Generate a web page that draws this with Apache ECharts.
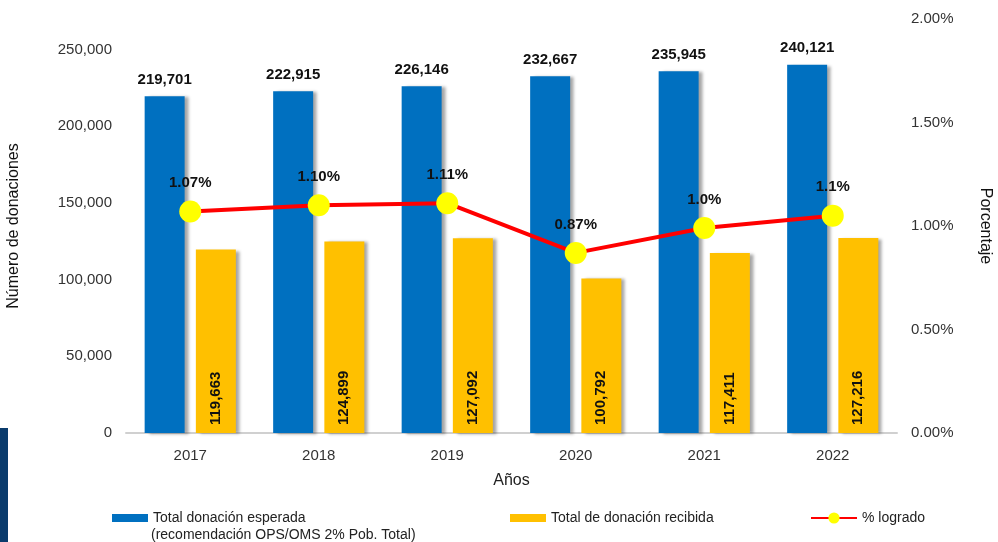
<!DOCTYPE html>
<html>
<head>
<meta charset="utf-8">
<script src="https://cdn.jsdelivr.net/npm/echarts@6/dist/echarts.min.js"></script>
<style>
  html, body { margin: 0; padding: 0; background: #fff; }
  #chart { width: 998px; height: 542px; }
</style>
</head>
<body>
<div id="chart"></div>
<script>
const years = ['2017', '2018', '2019', '2020', '2021', '2022']
const esperada = [219701, 222915, 226146, 232667, 235945, 240121]
const recibida = [119663, 124899, 127092, 100792, 117411, 127216]
const logrado = [1.07, 1.10, 1.11, 0.87, 0.99, 1.05]
const logradoLabels = ['1.07%', '1.10%', '1.11%', '0.87%', '1.0%', '1.1%']

const FONT = "'Liberation Sans', Arial, sans-serif"
const fmt = (v) => v.toLocaleString('en-US')
const legendText = { fontSize: 14, color: '#222' }

const chart = echarts.init(document.getElementById('chart'))
chart.setOption({
  animation: false,
  textStyle: { fontFamily: FONT },
  grid: { left: 126, right: 101, top: 19, bottom: 109, outerBoundsMode: 'none' },
  legend: [
    {
      data: ['Total donación esperada'],
      left: 112, top: 511, padding: 0, icon: 'rect',
      itemWidth: 36, itemHeight: 8, itemGap: 4,
      textStyle: legendText
    },
    {
      data: ['Total de donación recibida'],
      left: 510, top: 511, padding: 0, icon: 'rect',
      itemWidth: 36, itemHeight: 8,
      textStyle: legendText
    },
    {
      data: ['% logrado'],
      left: 810, top: 511, padding: 0,
      itemWidth: 46, itemHeight: 14,
      textStyle: legendText
    }
  ],
  graphic: [
    { type: 'rect', left: 0, top: 428, shape: { width: 8, height: 114 }, style: { fill: '#0A3B6C' } },
    {
      type: 'text', left: 151, top: 528,
      style: { text: '(recomendación OPS/OMS 2% Pob. Total)', fontFamily: FONT, fontSize: 14, fill: '#222' }
    }
  ],
  xAxis: {
    type: 'category',
    data: years,
    name: 'Años',
    nameLocation: 'middle',
    nameGap: 40,
    nameTextStyle: { fontSize: 16, color: '#222' },
    axisLine: { lineStyle: { color: '#d0d0d0', width: 2 } },
    axisTick: { show: false },
    axisLabel: { fontSize: 15, color: '#333', margin: 15 }
  },
  yAxis: [
    {
      type: 'value',
      min: 0, max: 270000, interval: 50000,
      name: 'Número de donaciones',
      nameLocation: 'middle',
      nameGap: 104,
      nameTextStyle: { fontSize: 16, color: '#111' },
      splitLine: { show: false },
      axisLine: { show: false },
      axisTick: { show: false },
      axisLabel: {
        fontSize: 15, color: '#333', margin: 14,
        formatter: (v) => (v > 250000 ? '' : fmt(v))
      }
    },
    {
      type: 'value',
      min: 0, max: 2, interval: 0.5,
      name: 'Porcentaje',
      nameLocation: 'middle',
      nameRotate: -90,
      nameGap: 80,
      nameTextStyle: { fontSize: 16, color: '#111' },
      splitLine: { show: false },
      axisLine: { show: false },
      axisTick: { show: false },
      axisLabel: { fontSize: 15, color: '#333', margin: 14, formatter: (v) => v.toFixed(2) + '%' }
    }
  ],
  series: [
    {
      name: 'Total donación esperada',
      type: 'bar',
      data: esperada,
      barWidth: 40,
      barGap: '28%',
      itemStyle: { color: '#0070C0', shadowColor: 'rgba(0,0,0,0.35)', shadowOffsetX: 4, shadowOffsetY: 1, shadowBlur: 3 },
      label: { show: true, position: 'top', distance: 9, fontSize: 15, fontWeight: 'bold', color: '#111', formatter: (p) => fmt(p.value) }
    },
    {
      name: 'Total de donación recibida',
      type: 'bar',
      data: recibida,
      barWidth: 40,
      itemStyle: { color: '#FFC000', shadowColor: 'rgba(0,0,0,0.35)', shadowOffsetX: 4, shadowOffsetY: 1, shadowBlur: 3 },
      label: {
        show: true, position: 'insideBottom', rotate: 90, align: 'left', verticalAlign: 'middle',
        distance: 8, fontSize: 15, fontWeight: 'bold', color: '#111', formatter: (p) => fmt(p.value)
      }
    },
    {
      name: '% logrado',
      type: 'line',
      yAxisIndex: 1,
      data: logrado,
      z: 5,
      symbol: 'circle',
      symbolSize: 22,
      lineStyle: { color: '#FF0000', width: 4 },
      itemStyle: { color: '#FFFF00', borderWidth: 0 },
      label: {
        show: true, position: 'top', distance: 10, fontSize: 15, fontWeight: 'bold', color: '#111',
        formatter: (p) => logradoLabels[p.dataIndex]
      }
    }
  ]
})
</script>
</body>
</html>
